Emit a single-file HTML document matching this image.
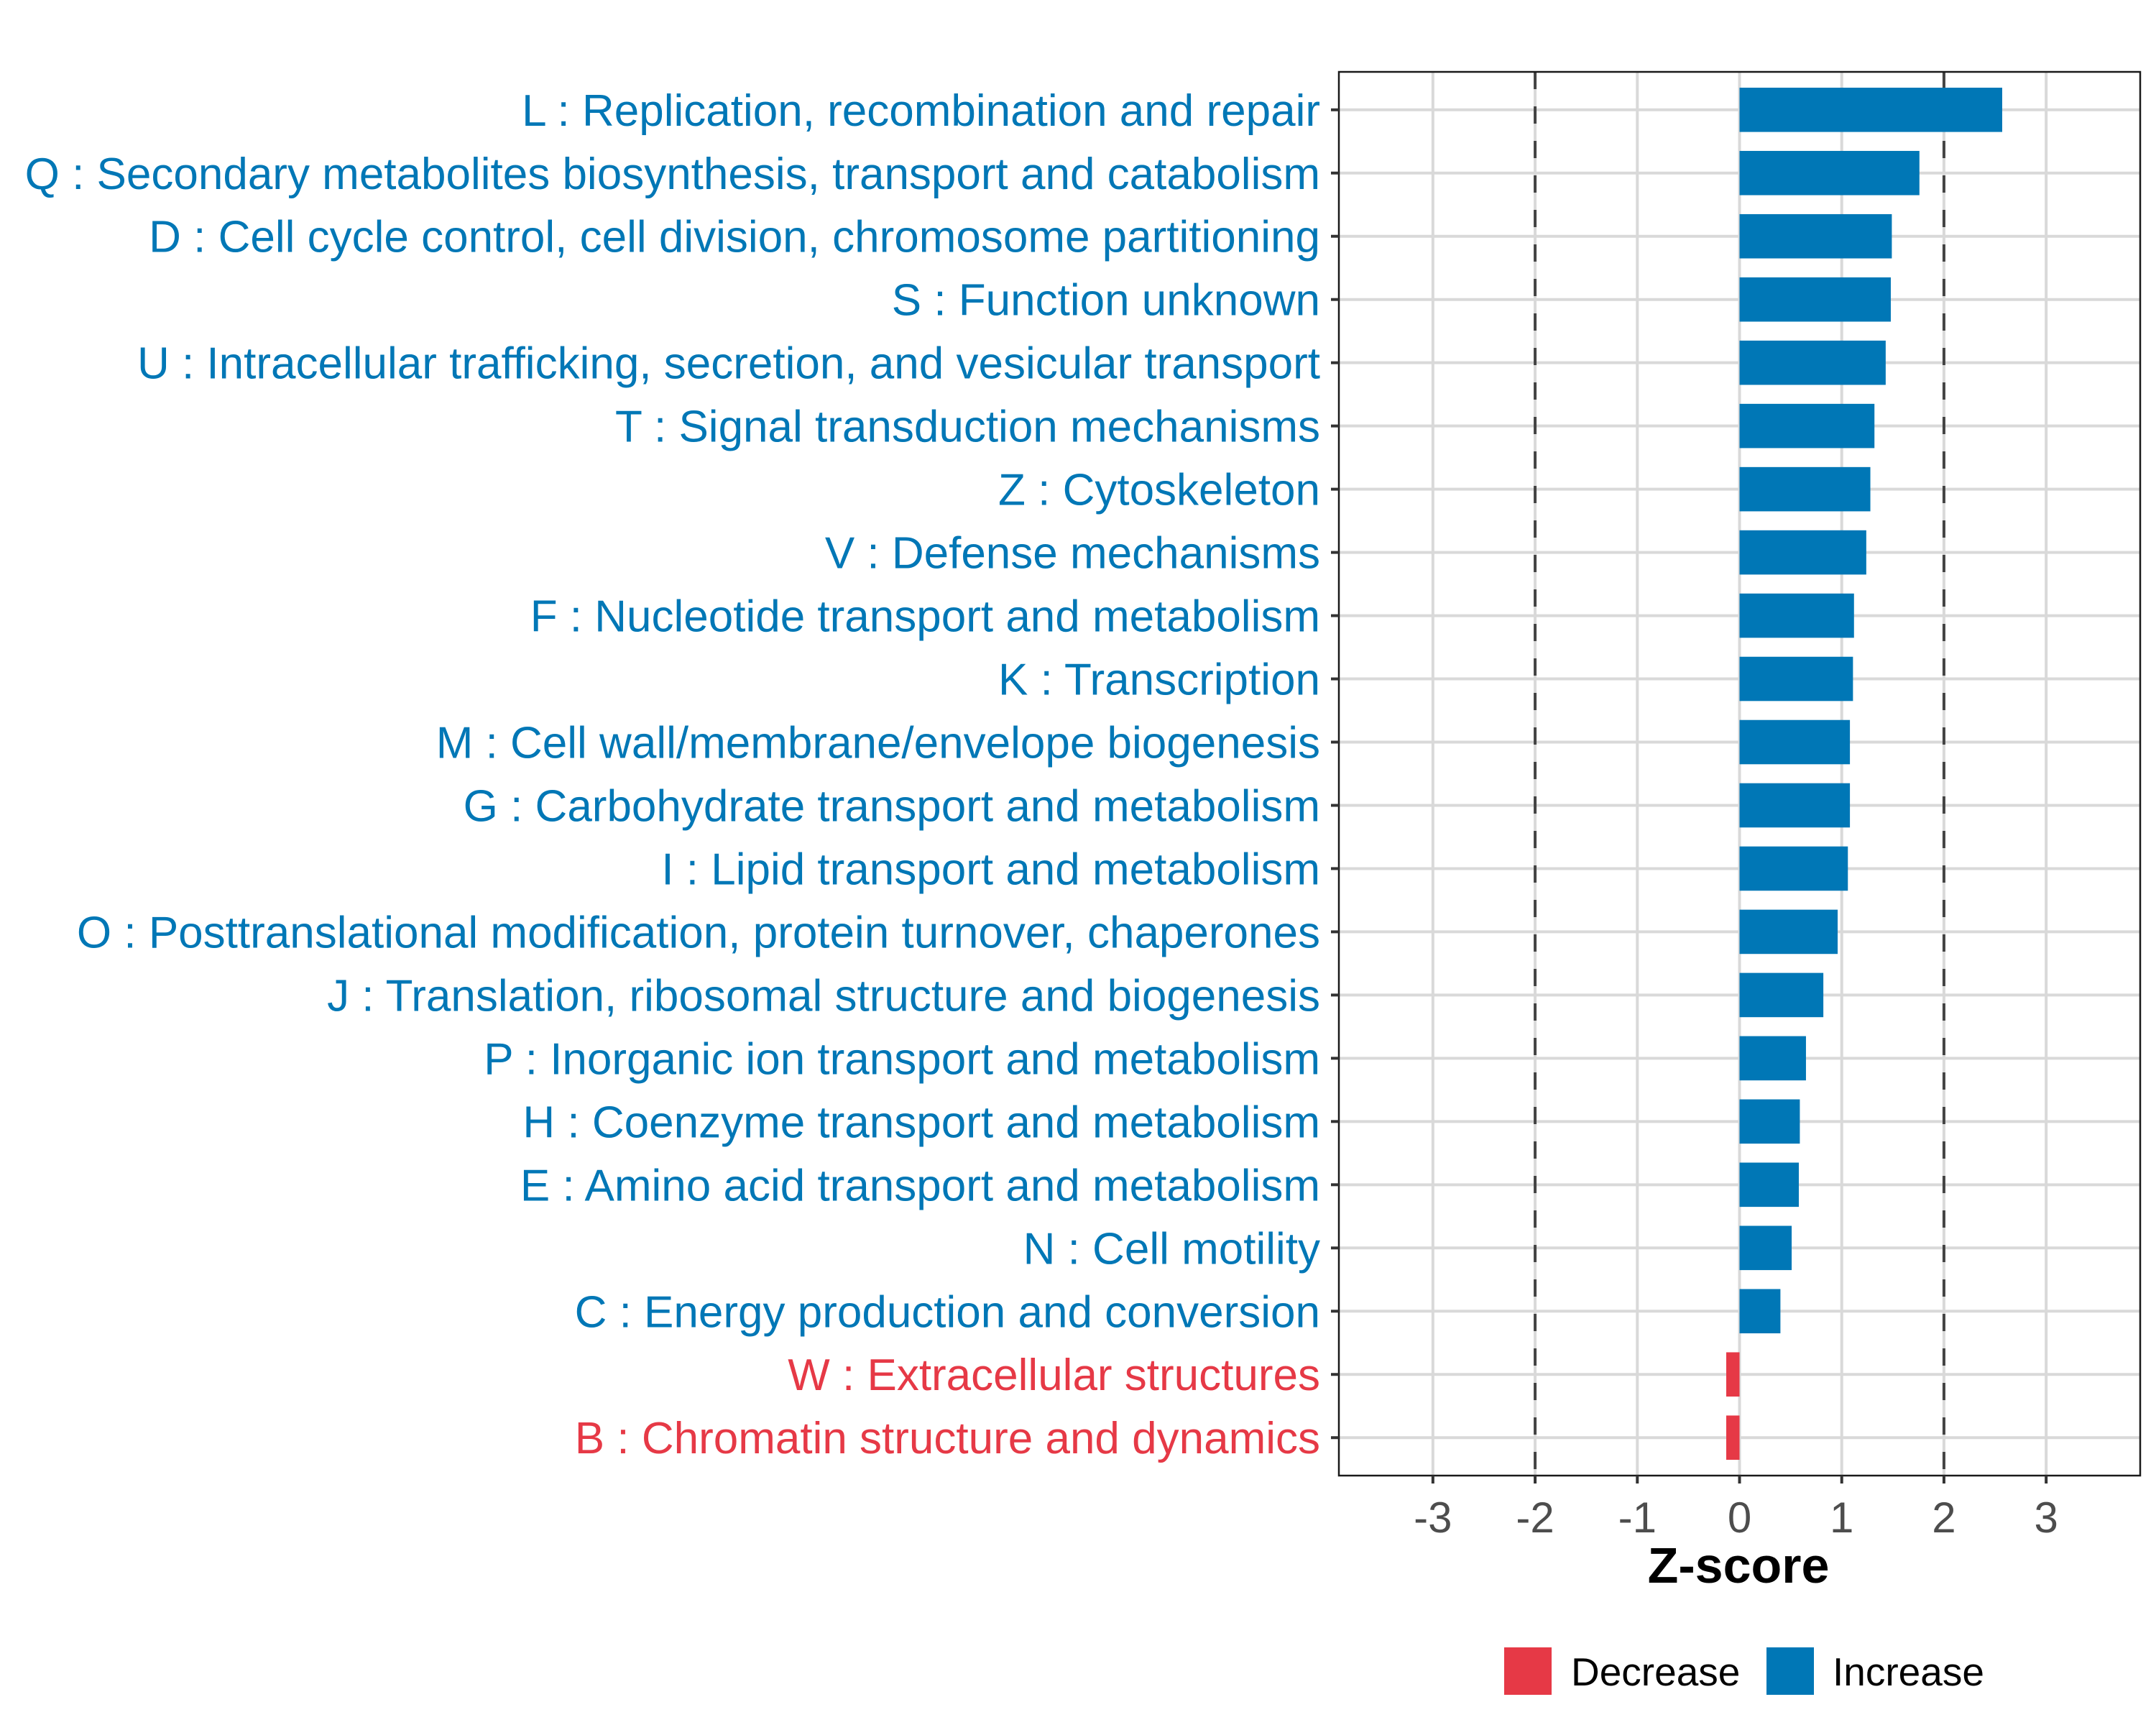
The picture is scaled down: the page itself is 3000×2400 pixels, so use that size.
<!DOCTYPE html>
<html><head><meta charset="utf-8">
<style>
html,body{margin:0;padding:0;background:#fff;}
svg{display:block;font-family:"Liberation Sans",Arial,sans-serif;}
</style></head>
<body>
<svg id="chart" width="3000" height="2400" viewBox="0 0 3000 2400" xmlns="http://www.w3.org/2000/svg">
<rect x="0" y="0" width="3000" height="2400" fill="#fff"/>
<g id="grid"></g>
<g id="bars"></g>
<g id="axes"></g>
<text x="2419" y="2202" text-anchor="middle" font-size="70" font-weight="bold" fill="#000">Z-score</text>
<g>
  <rect x="2093" y="2292" width="66" height="66" fill="#E63946"/>
  <text x="2186" y="2345" font-size="55" fill="#000">Decrease</text>
  <rect x="2458" y="2292" width="66" height="66" fill="#0077B6"/>
  <text x="2550" y="2345" font-size="55" fill="#000">Increase</text>
</g>
</svg>
<script>
const categories = [
 "L : Replication, recombination and repair",
 "Q : Secondary metabolites biosynthesis, transport and catabolism",
 "D : Cell cycle control, cell division, chromosome partitioning",
 "S : Function unknown",
 "U : Intracellular trafficking, secretion, and vesicular transport",
 "T : Signal transduction mechanisms",
 "Z : Cytoskeleton",
 "V : Defense mechanisms",
 "F : Nucleotide transport and metabolism",
 "K : Transcription",
 "M : Cell wall/membrane/envelope biogenesis",
 "G : Carbohydrate transport and metabolism",
 "I : Lipid transport and metabolism",
 "O : Posttranslational modification, protein turnover, chaperones",
 "J : Translation, ribosomal structure and biogenesis",
 "P : Inorganic ion transport and metabolism",
 "H : Coenzyme transport and metabolism",
 "E : Amino acid transport and metabolism",
 "N : Cell motility",
 "C : Energy production and conversion",
 "W : Extracellular structures",
 "B : Chromatin structure and dynamics"
];
const zscores = [2.57,1.76,1.49,1.48,1.43,1.32,1.28,1.24,1.12,1.11,1.08,1.08,1.06,0.96,0.82,0.65,0.59,0.58,0.51,0.40,-0.13,-0.13];
const xTicks = [-3,-2,-1,0,1,2,3];
const xTickLabels = ["-3","-2","-1","0","1","2","3"];
const thresholds = [-2,2];

const NS="http://www.w3.org/2000/svg";
const P={l:1863,r:2978,t:100,b:2053};
const xMin=-3.92,xMax=3.92;
function xs(v){return P.l+(v-xMin)/(xMax-xMin)*(P.r-P.l);}
const band=(P.b-P.t)/(categories.length-1+1.2);
function ys(i){return P.t+band*(i+0.6);}
const BLUE="#0077B6",RED="#E63946";
function mk(tag,attrs,parent){const e=document.createElementNS(NS,tag);for(const k in attrs)e.setAttribute(k,attrs[k]);parent.appendChild(e);return e;}
const grid=document.getElementById('grid'),bars=document.getElementById('bars'),axes=document.getElementById('axes');

xTicks.forEach((t,i)=>{
  const l=mk('line',{x1:xs(t),x2:xs(t),y1:P.t,y2:P.b,stroke:'#d9d9d9','stroke-width':4},grid);
  
  
});
categories.forEach((c,i)=>{
  const l=mk('line',{x1:P.l,x2:P.r,y1:ys(i),y2:ys(i),stroke:'#d9d9d9','stroke-width':4},grid);
  
  
});
thresholds.forEach(t=>{
  const l=mk('line',{x1:xs(t),x2:xs(t),y1:P.t,y2:P.b,stroke:'#444','stroke-width':4,'stroke-dasharray':'24 24'},grid);
  
  
});
zscores.forEach((v,i)=>{
  const x0=xs(0),x1=xs(v);
  const h=band*0.7;
  const r=mk('rect',{x:Math.min(x0,x1),y:ys(i)-h/2,width:Math.abs(x1-x0),height:h,fill:v<0?RED:BLUE},bars);
  
  
});
mk('rect',{x:P.l,y:P.t,width:P.r-P.l,height:P.b-P.t,fill:'none',stroke:'#1a1a1a','stroke-width':2.5},axes);
categories.forEach((c,i)=>{
  const tk=mk('line',{x1:P.l-11,x2:P.l,y1:ys(i),y2:ys(i),stroke:'#333','stroke-width':4},axes);
  
  
  const t=mk('text',{x:P.l-26,y:ys(i)+22,'text-anchor':'end','font-size':62,fill:zscores[i]<0?RED:BLUE},axes);
  t.textContent=c;
  
  
});
xTicks.forEach((t,i)=>{
  const tk=mk('line',{x1:xs(t),x2:xs(t),y1:P.b,y2:P.b+11,stroke:'#333','stroke-width':4},axes);
  
  
  const lb=mk('text',{x:xs(t),y:2132,'text-anchor':'middle','font-size':60,fill:'#4d4d4d'},axes);
  lb.textContent=xTickLabels[i];
  
  
});
</script>
</body></html>
